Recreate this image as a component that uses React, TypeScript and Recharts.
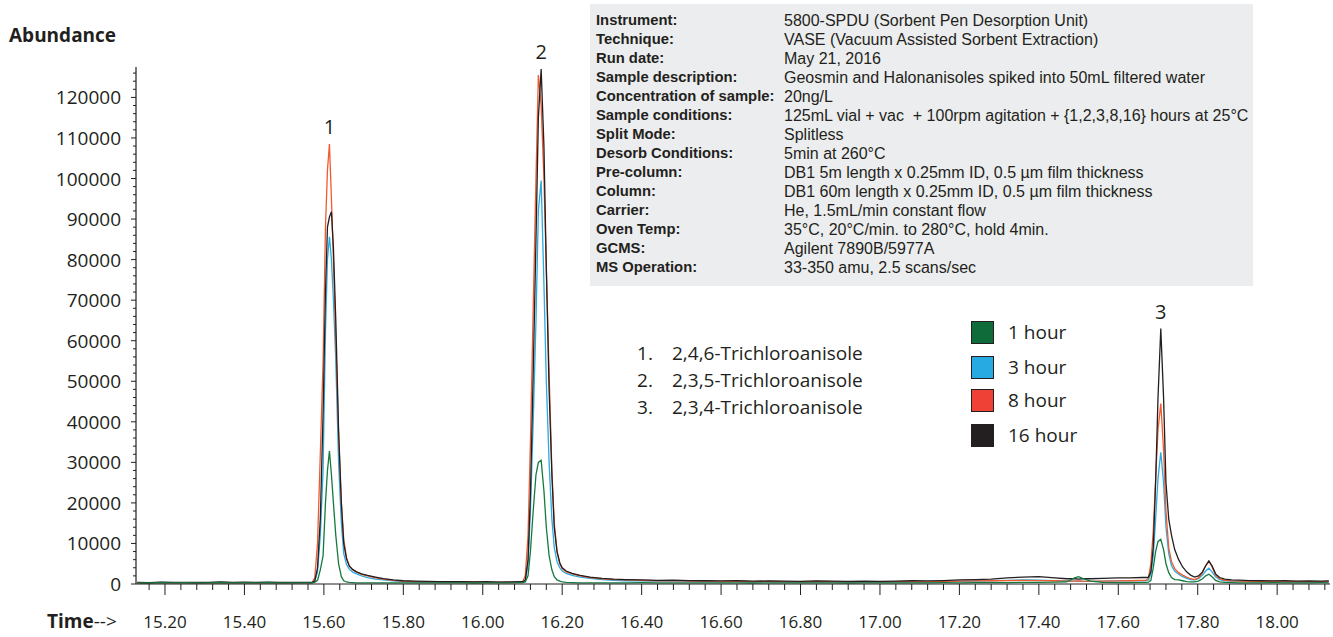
import React from 'react';
import { LineChart, Line, XAxis, YAxis, ReferenceDot } from 'recharts';

// ---------- data ----------
const times = [
  // baseline before peak 1
  15.13, 15.16, 15.19, 15.22, 15.25, 15.28, 15.31, 15.34, 15.37, 15.40, 15.43, 15.46, 15.49, 15.52, 15.55,
  // peak 1
  15.570, 15.577, 15.584, 15.591, 15.598, 15.604, 15.609, 15.614, 15.619, 15.624, 15.630, 15.637, 15.644, 15.650, 15.657, 15.664, 15.672, 15.682, 15.695, 15.710, 15.730, 15.750, 15.775, 15.800,
  // baseline
  15.83, 15.86, 15.89, 15.92, 15.95, 15.98, 16.01, 16.04, 16.07, 16.10,
  // peak 2
  16.107, 16.114, 16.120, 16.127, 16.134, 16.140, 16.147, 16.154, 16.160, 16.167, 16.174, 16.180, 16.187, 16.194, 16.200, 16.210, 16.225, 16.245, 16.270, 16.300, 16.330,
  // baseline
  16.36, 16.40, 16.44, 16.48, 16.52, 16.56, 16.60, 16.64, 16.68, 16.72, 16.76, 16.80, 16.84, 16.88, 16.92, 16.96, 17.00, 17.04, 17.08, 17.12, 17.16, 17.20, 17.24, 17.28, 17.32, 17.36, 17.40, 17.44, 17.47, 17.49, 17.50, 17.51, 17.53, 17.56, 17.60, 17.63, 17.66,
  // peak 3
  17.670, 17.676, 17.682, 17.688, 17.694, 17.700, 17.707, 17.714, 17.720, 17.727, 17.734, 17.742, 17.752, 17.762, 17.772, 17.782, 17.792, 17.802, 17.812, 17.820, 17.828, 17.836, 17.845, 17.855, 17.868, 17.885, 17.905,
  // baseline end
  17.93, 17.96, 17.99, 18.02, 18.05, 18.08, 18.11, 18.13,
];

const oneHour = [
  300, 250, 350, 280, 320, 260, 300, 340, 270, 310, 290, 330, 260, 300, 280,
  300, 400, 900, 3500, 7000, 20000, 28000, 32800, 27000, 20000, 12000, 5000, 1800, 800, 500, 400, 350, 300, 300, 280, 260, 300, 280, 300,
  280, 300, 260, 300, 280, 250, 300, 270, 300, 320,
  500, 2000, 8000, 18000, 27000, 30000, 30500, 23000, 14000, 7000, 3500, 1800, 1000, 700, 500, 400, 350, 300, 300, 280, 300,
  300, 320, 280, 300, 260, 300, 280, 300, 250, 300, 280, 260, 300, 280, 250, 300, 270, 300, 280, 300, 320, 300, 350, 330, 350, 400, 380, 450, 500, 1500, 1800, 1400, 700, 400, 350, 350, 400,
  400, 450, 900, 4000, 8000, 10500, 11000, 8500, 5000, 2800, 1600, 1100, 1000, 800, 600, 500, 500, 700, 1300, 2000, 2400, 1800, 900, 500, 400, 350, 300,
  300, 280, 320, 300, 280, 300, 320, 300,
];

const threeHour = [
  350, 300, 400, 330, 360, 310, 350, 380, 320, 360, 340, 370, 300, 350, 330,
  350, 600, 3000, 12000, 28000, 62000, 80000, 85600, 80000, 70000, 55000, 30000, 15000, 7500, 4800, 3600, 3000, 2500, 2000, 1600, 1200, 1000, 800, 600,
  550, 500, 480, 450, 420, 450, 400, 420, 380, 400,
  700, 5000, 18000, 40000, 65000, 92000, 99500, 74000, 50000, 30000, 16000, 9000, 5500, 4000, 3200, 2600, 2100, 1700, 1400, 1100, 900,
  800, 750, 700, 700, 650, 600, 600, 650, 550, 600, 550, 550, 600, 550, 500, 550, 500, 550, 600, 550, 600, 650, 700, 800, 900, 1000, 950, 850, 750, 700, 700, 650, 650, 700, 750, 800, 850,
  850, 1000, 2500, 7000, 16000, 26000, 32500, 25000, 14000, 7500, 4500, 3200, 2400, 1800, 1400, 1100, 1000, 1300, 2200, 3200, 3900, 3000, 1800, 1100, 800, 700, 650,
  600, 650, 550, 600, 550, 600, 500, 550,
];

const eightHour = [
  250, 300, 280, 350, 300, 270, 320, 300, 350, 290, 310, 280, 330, 300, 320,
  300, 1500, 10000, 32000, 55000, 88000, 102000, 108500, 95000, 80000, 60000, 37000, 20000, 11000, 6500, 4500, 3600, 3000, 2400, 2000, 1500, 1200, 900, 700,
  600, 550, 500, 480, 450, 500, 420, 450, 400, 500,
  2000, 12000, 35000, 68000, 100000, 125500, 118000, 100000, 78000, 52000, 28000, 15000, 8000, 5000, 3800, 3000, 2500, 2000, 1600, 1300, 1100,
  1000, 900, 800, 850, 700, 750, 650, 700, 600, 650, 600, 550, 650, 600, 550, 600, 550, 600, 650, 600, 650, 700, 750, 800, 850, 900, 850, 800, 700, 700, 750, 700, 650, 700, 750, 800, 900,
  900, 1500, 5000, 13000, 26000, 38000, 44500, 33000, 18000, 9000, 5500, 3800, 2800, 2200, 1700, 1300, 1100, 1500, 2800, 4500, 5600, 4200, 2200, 1300, 900, 750, 700,
  650, 600, 700, 600, 650, 550, 600, 650,
];

const sixteenHour = [
  400, 350, 450, 380, 420, 370, 400, 500, 380, 430, 400, 450, 380, 420, 400,
  400, 700, 4000, 16000, 42000, 72000, 88000, 90500, 91800, 83000, 65000, 38000, 20000, 10000, 6200, 4400, 3600, 3000, 2500, 2100, 1700, 1300, 1000, 800,
  700, 650, 600, 550, 600, 500, 550, 480, 500, 550,
  900, 6000, 22000, 52000, 85000, 115000, 127000, 108000, 78000, 48000, 27000, 14000, 8000, 5200, 4000, 3200, 2600, 2100, 1700, 1400, 1200,
  1100, 1000, 900, 950, 850, 800, 750, 800, 700, 750, 700, 650, 750, 700, 650, 700, 650, 700, 800, 750, 850, 1000, 1100, 1200, 1500, 1700, 1800, 1500, 1300, 1300, 1200, 1300, 1300, 1400, 1500, 1500, 1600,
  1600, 1700, 3000, 9000, 25000, 46000, 63000, 46000, 25000, 16000, 12000, 8500, 6000, 4200, 3000, 2200, 1700, 2000, 3000, 4500, 5700, 4500, 2500, 1600, 1200, 1000, 950,
  850, 800, 750, 800, 700, 750, 700, 750,
];

const xMajorLabels = ['15.20', '15.40', '15.60', '15.80', '16.00', '16.20', '16.40', '16.60', '16.80', '17.00', '17.20', '17.40', '17.60', '17.80', '18.00'];
const yMajorLabels = [0, 10000, 20000, 30000, 40000, 50000, 60000, 70000, 80000, 90000, 100000, 110000, 120000];

const seriesNames = ['1 hour', '3 hour', '8 hour', '16 hour'];
const lineColors = ['#157a3f', '#29abe2', '#f15a30', '#231f20'];
const legendColors = ['#0f6b3a', '#27aae1', '#ef4136', '#231f20'];

const compounds = ['2,4,6-Trichloroanisole', '2,3,5-Trichloroanisole', '2,3,4-Trichloroanisole'];
const peakNames = ['1', '2', '3'];
const peakTimes = [15.614, 16.147, 17.707];
const peakTops = [108500, 127000, 63000];

const infoLabels = [
  'Instrument:', 'Technique:', 'Run date:', 'Sample description:', 'Concentration of sample:',
  'Sample conditions:', 'Split Mode:', 'Desorb Conditions:', 'Pre-column:', 'Column:',
  'Carrier:', 'Oven Temp:', 'GCMS:', 'MS Operation:',
];
const infoValues = [
  '5800-SPDU (Sorbent Pen Desorption Unit)',
  'VASE (Vacuum Assisted Sorbent Extraction)',
  'May 21, 2016',
  'Geosmin and Halonanisoles spiked into 50mL filtered water',
  '20ng/L',
  '125mL vial + vac  + 100rpm agitation + {1,2,3,8,16} hours at 25°C',
  'Splitless',
  '5min at 260°C',
  'DB1 5m length x 0.25mm ID, 0.5 µm film thickness',
  'DB1 60m length x 0.25mm ID, 0.5 µm film thickness',
  'He, 1.5mL/min constant flow',
  '35°C, 20°C/min. to 280°C, hold 4min.',
  'Agilent 7890B/5977A',
  '33-350 amu, 2.5 scans/sec',
];

// ---------- derived tables ----------
const rows = times.map((t, i) => ({
  t,
  h1: oneHour[i],
  h3: threeHour[i],
  h8: eightHour[i],
  h16: sixteenHour[i],
}));

const X_MIN = 15.127;
const X_MAX = 18.133;
const Y_MAX = 127500;

const xMajorValues = xMajorLabels.map((s) => parseFloat(s));
const xTicks: number[] = [];
for (let k = 0; k < 100; k++) {
  const v = Math.round((15.12 + 0.04 * k) * 1000) / 1000;
  if (v < X_MIN) continue;
  if (v > X_MAX) break;
  xTicks.push(v);
}
const yTicks: number[] = [];
for (let v = 0; v <= Y_MAX; v += 2000) yTicks.push(v);

const INK = '#231f20';
const FONT = '"Open Sans", "Noto Sans", sans-serif';

const XTick = (props: any) => {
  const { x, y, payload } = props;
  const idx = xMajorValues.findIndex((m) => Math.abs(m - payload.value) < 1e-6);
  const major = idx >= 0;
  return (
    <g>
      <line x1={x} x2={x} y1={y} y2={y + (major ? 11 : 6)} stroke={INK} strokeWidth={1} />
      {major && (
        <text x={x} y={y + 37} textAnchor="middle" dominantBaseline="central" fontSize={17} fontFamily={FONT} fill={INK}>
          {xMajorLabels[idx]}
        </text>
      )}
    </g>
  );
};

const YTick = (props: any) => {
  const { x, y, payload } = props;
  const major = yMajorLabels.includes(payload.value);
  return (
    <g>
      <line x1={x - (major ? 5 : 3)} x2={x} y1={y} y2={y} stroke={INK} strokeWidth={1} />
      {major && (
        <text x={x - 15} y={y} textAnchor="end" dominantBaseline="central" fontSize={19} fontFamily={FONT} fill={INK}>
          {payload.value}
        </text>
      )}
    </g>
  );
};

const seriesKeys = ['h1', 'h3', 'h8', 'h16'];
const drawOrder = [1, 2, 3, 0];

export default function App() {
  return (
    <div style={{ position: 'absolute', left: 0, top: 0, width: 1333, height: 637, background: '#fff', fontFamily: FONT, color: INK }}>
      <LineChart width={1333} height={637} data={rows} margin={{ top: 67, right: 3, bottom: 23, left: 76 }}>
        <XAxis
          dataKey="t"
          type="number"
          domain={[X_MIN, X_MAX]}
          ticks={xTicks}
          interval={0}
          tick={XTick}
          tickLine={false}
          tickSize={0}
          tickMargin={0}
          height={30}
          axisLine={{ stroke: INK, strokeWidth: 1.2 }}
          allowDataOverflow
        />
        <YAxis
          type="number"
          domain={[0, Y_MAX]}
          ticks={yTicks}
          interval={0}
          tick={YTick}
          tickLine={false}
          tickSize={0}
          tickMargin={0}
          width={60}
          axisLine={{ stroke: INK, strokeWidth: 1.2 }}
          allowDataOverflow
        />
        {drawOrder.map((i) => (
          <Line
            key={seriesKeys[i]}
            dataKey={seriesKeys[i]}
            name={seriesNames[i]}
            type="linear"
            stroke={lineColors[i]}
            strokeWidth={1.3}
            dot={false}
            activeDot={false}
            isAnimationActive={false}
          />
        ))}
        {peakNames.map((p, i) => (
          <ReferenceDot
            key={p}
            x={peakTimes[i]}
            y={peakTops[i]}
            r={0}
            ifOverflow="visible"
            shape={(sp: any) => (
              <text x={sp.cx} y={sp.cy - 10} textAnchor="middle" fontSize={20} fontFamily={FONT} fill={INK}>
                {p}
              </text>
            )}
          />
        ))}
      </LineChart>

      {/* axis titles */}
      <div style={{ position: 'absolute', left: 9, top: 22, fontSize: 19, fontWeight: 700, lineHeight: '26px', whiteSpace: 'nowrap' }}>Abundance</div>
      <div style={{ position: 'absolute', left: 47, top: 608, fontSize: 19, lineHeight: '26px', whiteSpace: 'nowrap' }}>
        <span style={{ fontWeight: 700 }}>Time</span>--&gt;
      </div>

      {/* method info box */}
      <div
        style={{
          position: 'absolute', left: 590, top: 4, width: 663, height: 282, background: '#ecedee',
          fontFamily: '"Liberation Sans", Arial, sans-serif', boxSizing: 'border-box', paddingTop: 7,
        }}
      >
        {infoLabels.map((l, i) => (
          <div key={l} style={{ position: 'relative', height: 19, lineHeight: '19px', whiteSpace: 'pre' }}>
            <span style={{ position: 'absolute', left: 6, fontWeight: 700, fontSize: 14.8 }}>{l}</span>
            <span style={{ position: 'absolute', left: 194, fontSize: 16 }}>{infoValues[i]}</span>
          </div>
        ))}
      </div>

      {/* compound list */}
      {compounds.map((c, i) => (
        <div key={c} style={{ position: 'absolute', left: 637, top: 340 + i * 27, fontSize: 19, lineHeight: '26px', whiteSpace: 'nowrap' }}>
          <span style={{ display: 'inline-block', width: 35 }}>{peakNames[i]}.</span>
          {c}
        </div>
      ))}

      {/* legend */}
      {seriesNames.map((n, i) => {
        const tops = [321, 356, 389, 424];
        return (
          <div key={n} style={{ position: 'absolute', left: 971, top: tops[i], height: 22, whiteSpace: 'nowrap' }}>
            <div style={{ position: 'absolute', left: 0, top: 0, width: 21, height: 21, background: legendColors[i], border: `1px solid ${INK}` }} />
            <div style={{ position: 'absolute', left: 37, top: -2, fontSize: 19, lineHeight: '26px' }}>{n}</div>
          </div>
        );
      })}
    </div>
  );
}
